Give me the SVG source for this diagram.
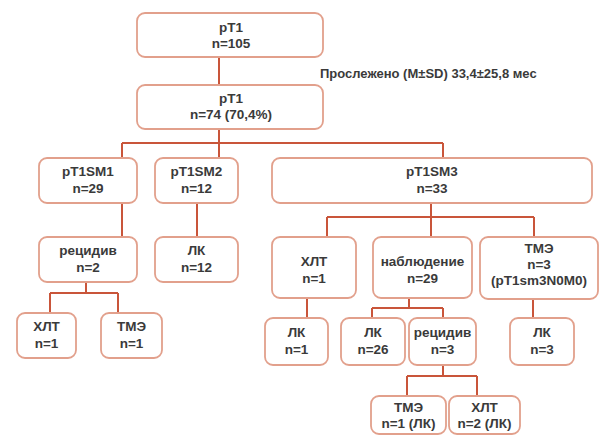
<svg xmlns="http://www.w3.org/2000/svg" width="601" height="435" viewBox="0 0 601 435">
<style>
.b{fill:#fff;stroke:#e2a08c;stroke-width:1.8}
.t{font-family:"Liberation Sans",Arial,sans-serif;font-weight:bold;font-size:13.5px;fill:#3a3a3a;text-anchor:middle}
.c{fill:none;stroke:#c9553a;stroke-width:2}
</style>
<rect width="601" height="435" fill="#fff"/>
<g id="connectors">
<path class="c" d="M219 57V85M219 129V143M122 143H443M122 143V158M219 143V158M443 143V158"/>
<path class="c" d="M122 203V237M197 203V237"/>
<path class="c" d="M86 282V293M50 293H118M50 293V313M118 293V313"/>
<path class="c" d="M431 203V217M327 217H534M327 217V237M431 217V237M534 217V237"/>
<path class="c" d="M307 298V318M533 299V318"/>
<path class="c" d="M409 298V308M372 308H443M372 308V318M443 308V318"/>
<path class="c" d="M443 365V376M407 376H477M407 376V396M477 376V396"/>
</g>
<g id="root"><rect class="b" x="137" y="13" width="186" height="44" rx="8"/><text class="t" x="231" y="32">pT1</text><text class="t" x="231" y="48">n=105</text></g>
<text class="t" x="320" y="78" style="text-anchor:start;font-size:13px">Прослежено (M±SD) 33,4±25,8 мес</text>
<g id="pt1"><rect class="b" x="137" y="85" width="186" height="44" rx="8"/><text class="t" x="231" y="103">pT1</text><text class="t" x="231" y="119">n=74 (70,4%)</text></g>
<g id="sm1"><rect class="b" x="39" y="158" width="98" height="45" rx="8"/><text class="t" x="88" y="176">pT1SM1</text><text class="t" x="88" y="193">n=29</text></g>
<g id="sm2"><rect class="b" x="155" y="158" width="83" height="45" rx="8"/><text class="t" x="196.5" y="176">pT1SM2</text><text class="t" x="196.5" y="193">n=12</text></g>
<g id="sm3"><rect class="b" x="272" y="158" width="320" height="45" rx="8"/><text class="t" x="432" y="176">pT1SM3</text><text class="t" x="432" y="193">n=33</text></g>
<g id="rec1"><rect class="b" x="39" y="237" width="98" height="45" rx="8"/><text class="t" x="88" y="255">рецидив</text><text class="t" x="88" y="272">n=2</text></g>
<g id="lk12"><rect class="b" x="155" y="237" width="83" height="45" rx="8"/><text class="t" x="196.5" y="255">ЛК</text><text class="t" x="196.5" y="272">n=12</text></g>
<g id="xlt1"><rect class="b" x="17" y="313" width="59" height="45" rx="8"/><text class="t" x="46.5" y="331">ХЛТ</text><text class="t" x="46.5" y="348">n=1</text></g>
<g id="tme1"><rect class="b" x="101" y="313" width="61" height="45" rx="8"/><text class="t" x="131.5" y="331">ТМЭ</text><text class="t" x="131.5" y="348">n=1</text></g>
<g id="xlt3"><rect class="b" x="272" y="237" width="84" height="61" rx="8"/><text class="t" x="314" y="266">ХЛТ</text><text class="t" x="314" y="283">n=1</text></g>
<g id="obs"><rect class="b" x="373" y="237" width="99" height="61" rx="8"/><text class="t" x="422.5" y="266">наблюдение</text><text class="t" x="422.5" y="283">n=29</text></g>
<g id="tme3"><rect class="b" x="480" y="237" width="118" height="62" rx="8"/><text class="t" x="539" y="253">ТМЭ</text><text class="t" x="539" y="269">n=3</text><text class="t" x="539" y="285">(pT1sm3N0M0)</text></g>
<g id="lk1"><rect class="b" x="265" y="318" width="63" height="47" rx="8"/><text class="t" x="296.5" y="337">ЛК</text><text class="t" x="296.5" y="354">n=1</text></g>
<g id="lk26"><rect class="b" x="341" y="318" width="64" height="47" rx="8"/><text class="t" x="373" y="337">ЛК</text><text class="t" x="373" y="354">n=26</text></g>
<g id="rec3"><rect class="b" x="409" y="318" width="67" height="47" rx="8"/><text class="t" x="442.5" y="337">рецидив</text><text class="t" x="442.5" y="354">n=3</text></g>
<g id="lk3"><rect class="b" x="510" y="318" width="64" height="47" rx="8"/><text class="t" x="542" y="337">ЛК</text><text class="t" x="542" y="354">n=3</text></g>
<g id="tme2"><rect class="b" x="371" y="396" width="75" height="38" rx="8"/><text class="t" x="408.5" y="412">ТМЭ</text><text class="t" x="408.5" y="428">n=1 (ЛК)</text></g>
<g id="xlt2"><rect class="b" x="449" y="396" width="71" height="38" rx="8"/><text class="t" x="484.5" y="412">ХЛТ</text><text class="t" x="484.5" y="428">n=2 (ЛК)</text></g>
</svg>
